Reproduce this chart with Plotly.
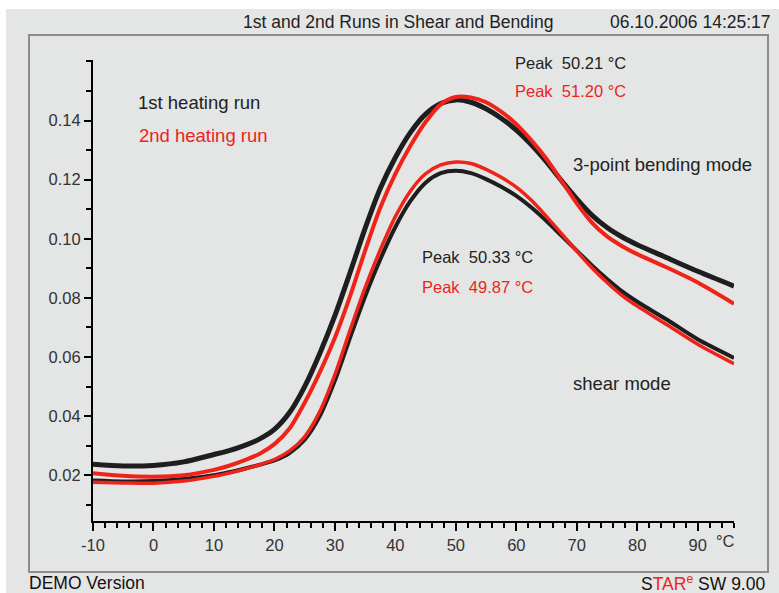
import plotly.graph_objects as go

# Temperature grid (°C)
temps = [-10, -5, 0, 5, 10, 12.5, 15, 17.5, 20, 22.5, 25, 27.5, 30, 32.5, 35, 37.5,
         40, 42.5, 45, 47.5, 50, 52.5, 55, 57.5, 60, 62.5, 65, 67.5, 70, 72.5, 75,
         77.5, 80, 85, 90, 96]

# 3-point bending mode, 1st heating run
bend_run1 = [0.0237, 0.0231, 0.0233, 0.0245, 0.0270, 0.0283, 0.0300, 0.0322, 0.0355,
             0.0412, 0.0500, 0.0612, 0.0740, 0.0885, 0.1035, 0.1170, 0.1275, 0.1360,
             0.1422, 0.1458, 0.1470, 0.1462, 0.1440, 0.1408, 0.1368, 0.1318, 0.1260,
             0.1196, 0.1135, 0.1080, 0.1038, 0.1006, 0.0980, 0.0935, 0.0890, 0.0840]
# 3-point bending mode, 2nd heating run
bend_run2 = [0.0207, 0.0198, 0.0195, 0.0200, 0.0218, 0.0232, 0.0250, 0.0272, 0.0305,
             0.0358, 0.0445, 0.0548, 0.0665, 0.0805, 0.0960, 0.1105, 0.1220, 0.1315,
             0.1395, 0.1455, 0.1480, 0.1478, 0.1462, 0.1430, 0.1388, 0.1333, 0.1270,
             0.1195, 0.1120, 0.1055, 0.1008, 0.0975, 0.0948, 0.0902, 0.0852, 0.0780]
# shear mode, 1st heating run
shear_run1 = [0.0182, 0.0179, 0.0180, 0.0187, 0.0200, 0.0210, 0.0222, 0.0235, 0.0250,
              0.0275, 0.0320, 0.0400, 0.0520, 0.0665, 0.0805, 0.0930, 0.1040, 0.1128,
              0.1190, 0.1222, 0.1230, 0.1222, 0.1202, 0.1176, 0.1145, 0.1106, 0.1060,
              0.1010, 0.0960, 0.0910, 0.0864, 0.0822, 0.0787, 0.0725, 0.0660, 0.0597]
# shear mode, 2nd heating run
shear_run2 = [0.0176, 0.0174, 0.0173, 0.0180, 0.0196, 0.0207, 0.0220, 0.0235, 0.0253,
              0.0282, 0.0330, 0.0415, 0.0540, 0.0690, 0.0835, 0.0962, 0.1075, 0.1162,
              0.1220, 0.1250, 0.1260, 0.1255, 0.1235, 0.1208, 0.1175, 0.1130, 0.1075,
              0.1017, 0.0958, 0.0902, 0.0852, 0.0808, 0.0772, 0.0708, 0.0643, 0.0577]

y_major = [0.02, 0.04, 0.06, 0.08, 0.10, 0.12, 0.14]
y_major_text = ["0.02", "0.04", "0.06", "0.08", "0.10", "0.12", "0.14"]
x_major = [-10, 0, 10, 20, 30, 40, 50, 60, 70, 80, 90]
x_major_text = ["-10", "0", "10", "20", "30", "40", "50", "60", "70", "80", "90"]

BLACK = "rgb(30,30,30)"
RED = "rgb(240,35,25)"
BG = "#e4e5e5"
FONT = "Liberation Sans, Arial, sans-serif"

fig = go.Figure()
fig.add_trace(go.Scatter(x=temps, y=bend_run1, mode="lines",
                         line=dict(color=BLACK, width=5, shape="spline", smoothing=0.8),
                         name="bending 1st"))
fig.add_trace(go.Scatter(x=temps, y=shear_run1, mode="lines",
                         line=dict(color=BLACK, width=4, shape="spline", smoothing=0.8),
                         name="shear 1st"))
fig.add_trace(go.Scatter(x=temps, y=bend_run2, mode="lines",
                         line=dict(color=RED, width=4, shape="spline", smoothing=0.8),
                         name="bending 2nd"))
fig.add_trace(go.Scatter(x=temps, y=shear_run2, mode="lines",
                         line=dict(color=RED, width=3.5, shape="spline", smoothing=0.8),
                         name="shear 2nd"))

W, H = 779, 593
L, R, T, B = 93, 45, 60, 72
pw, ph = W - L - R, H - T - B


def px(xp):
    return (xp - L) / pw


def py(yp):
    return (H - B - yp) / ph


fig.update_layout(
    width=W, height=H,
    margin=dict(l=L, r=R, t=T, b=B, pad=0),
    paper_bgcolor=BG, plot_bgcolor=BG,
    showlegend=False,
    font=dict(family=FONT, size=17, color="#333333"),
    xaxis=dict(range=[-10, 96], showgrid=False, zeroline=False,
               showline=True, linecolor="black", linewidth=2,
               ticks="outside", ticklen=8, tickwidth=1.5, tickcolor="black",
               tickvals=x_major, ticktext=x_major_text,
               tickfont=dict(size=16.5, color="#333333"),
               minor=dict(tick0=0, dtick=2, ticks="outside", ticklen=5,
                          tickwidth=1.5, tickcolor="black", showgrid=False)),
    yaxis=dict(range=[0.0045, 0.1605], showgrid=False, zeroline=False,
               showline=True, linecolor="black", linewidth=2,
               ticks="outside", ticklen=7, tickwidth=1.5, tickcolor="black",
               tickvals=y_major, ticktext=y_major_text,
               tickfont=dict(size=16.5, color="#333333"),
               minor=dict(tick0=0, dtick=0.01, ticks="outside", ticklen=5,
                          tickwidth=1.5, tickcolor="black", showgrid=False)),
    shapes=[
        dict(type="rect", xref="paper", yref="paper", layer="below",
             x0=px(29), x1=px(768), y0=py(572), y1=py(35),
             line=dict(color="#8c8c8c", width=2), fillcolor=BG),
        dict(type="rect", xref="paper", yref="paper",
             x0=px(-20), x1=px(800), y0=py(9), y1=py(-20),
             line=dict(width=0), fillcolor="white"),
        dict(type="rect", xref="paper", yref="paper",
             x0=px(-20), x1=px(6), y0=py(620), y1=py(-20),
             line=dict(width=0), fillcolor="white"),
    ],
)

ann = [
    ("1st and 2nd Runs in Shear and Bending", px(398), py(22), "center", "#222222", 17.5),
    ("06.10.2006 14:25:17", px(773), py(22), "right", "#222222", 17.5),
    ("1st heating run", px(136), py(102), "left", "#222222", 18.5),
    ("2nd heating run", px(137), py(135), "left", RED, 18.5),
    ("Peak\u00a0 50.21 °C", px(513), py(63), "left", "#222222", 16.5),
    ("Peak\u00a0 51.20 °C", px(513), py(91), "left", RED, 16.5),
    ("3-point bending mode", px(571), py(165), "left", "#222222", 18.5),
    ("Peak\u00a0 50.33 °C", px(420), py(257), "left", "#222222", 16.5),
    ("Peak\u00a0 49.87 °C", px(420), py(287), "left", RED, 16.5),
    ("shear mode", px(571), py(383), "left", "#222222", 18.5),
    ("°C", px(725), py(541), "center", "#333333", 16.5),
    ("DEMO Version", px(27), py(583), "left", "#111111", 17.5),
    ("S<span style='color:rgb(240,35,25)'>TAR<sup>e</sup></span> SW 9.00",
     px(767), py(583), "right", "#111111", 17.5),
]
for text, x, y, anchor, color, size in ann:
    fig.add_annotation(text=text, x=x, y=y, xref="paper", yref="paper",
                       xanchor=anchor, yanchor="middle", showarrow=False,
                       font=dict(family=FONT, size=size, color=color))

fig.write_html("out.html")
